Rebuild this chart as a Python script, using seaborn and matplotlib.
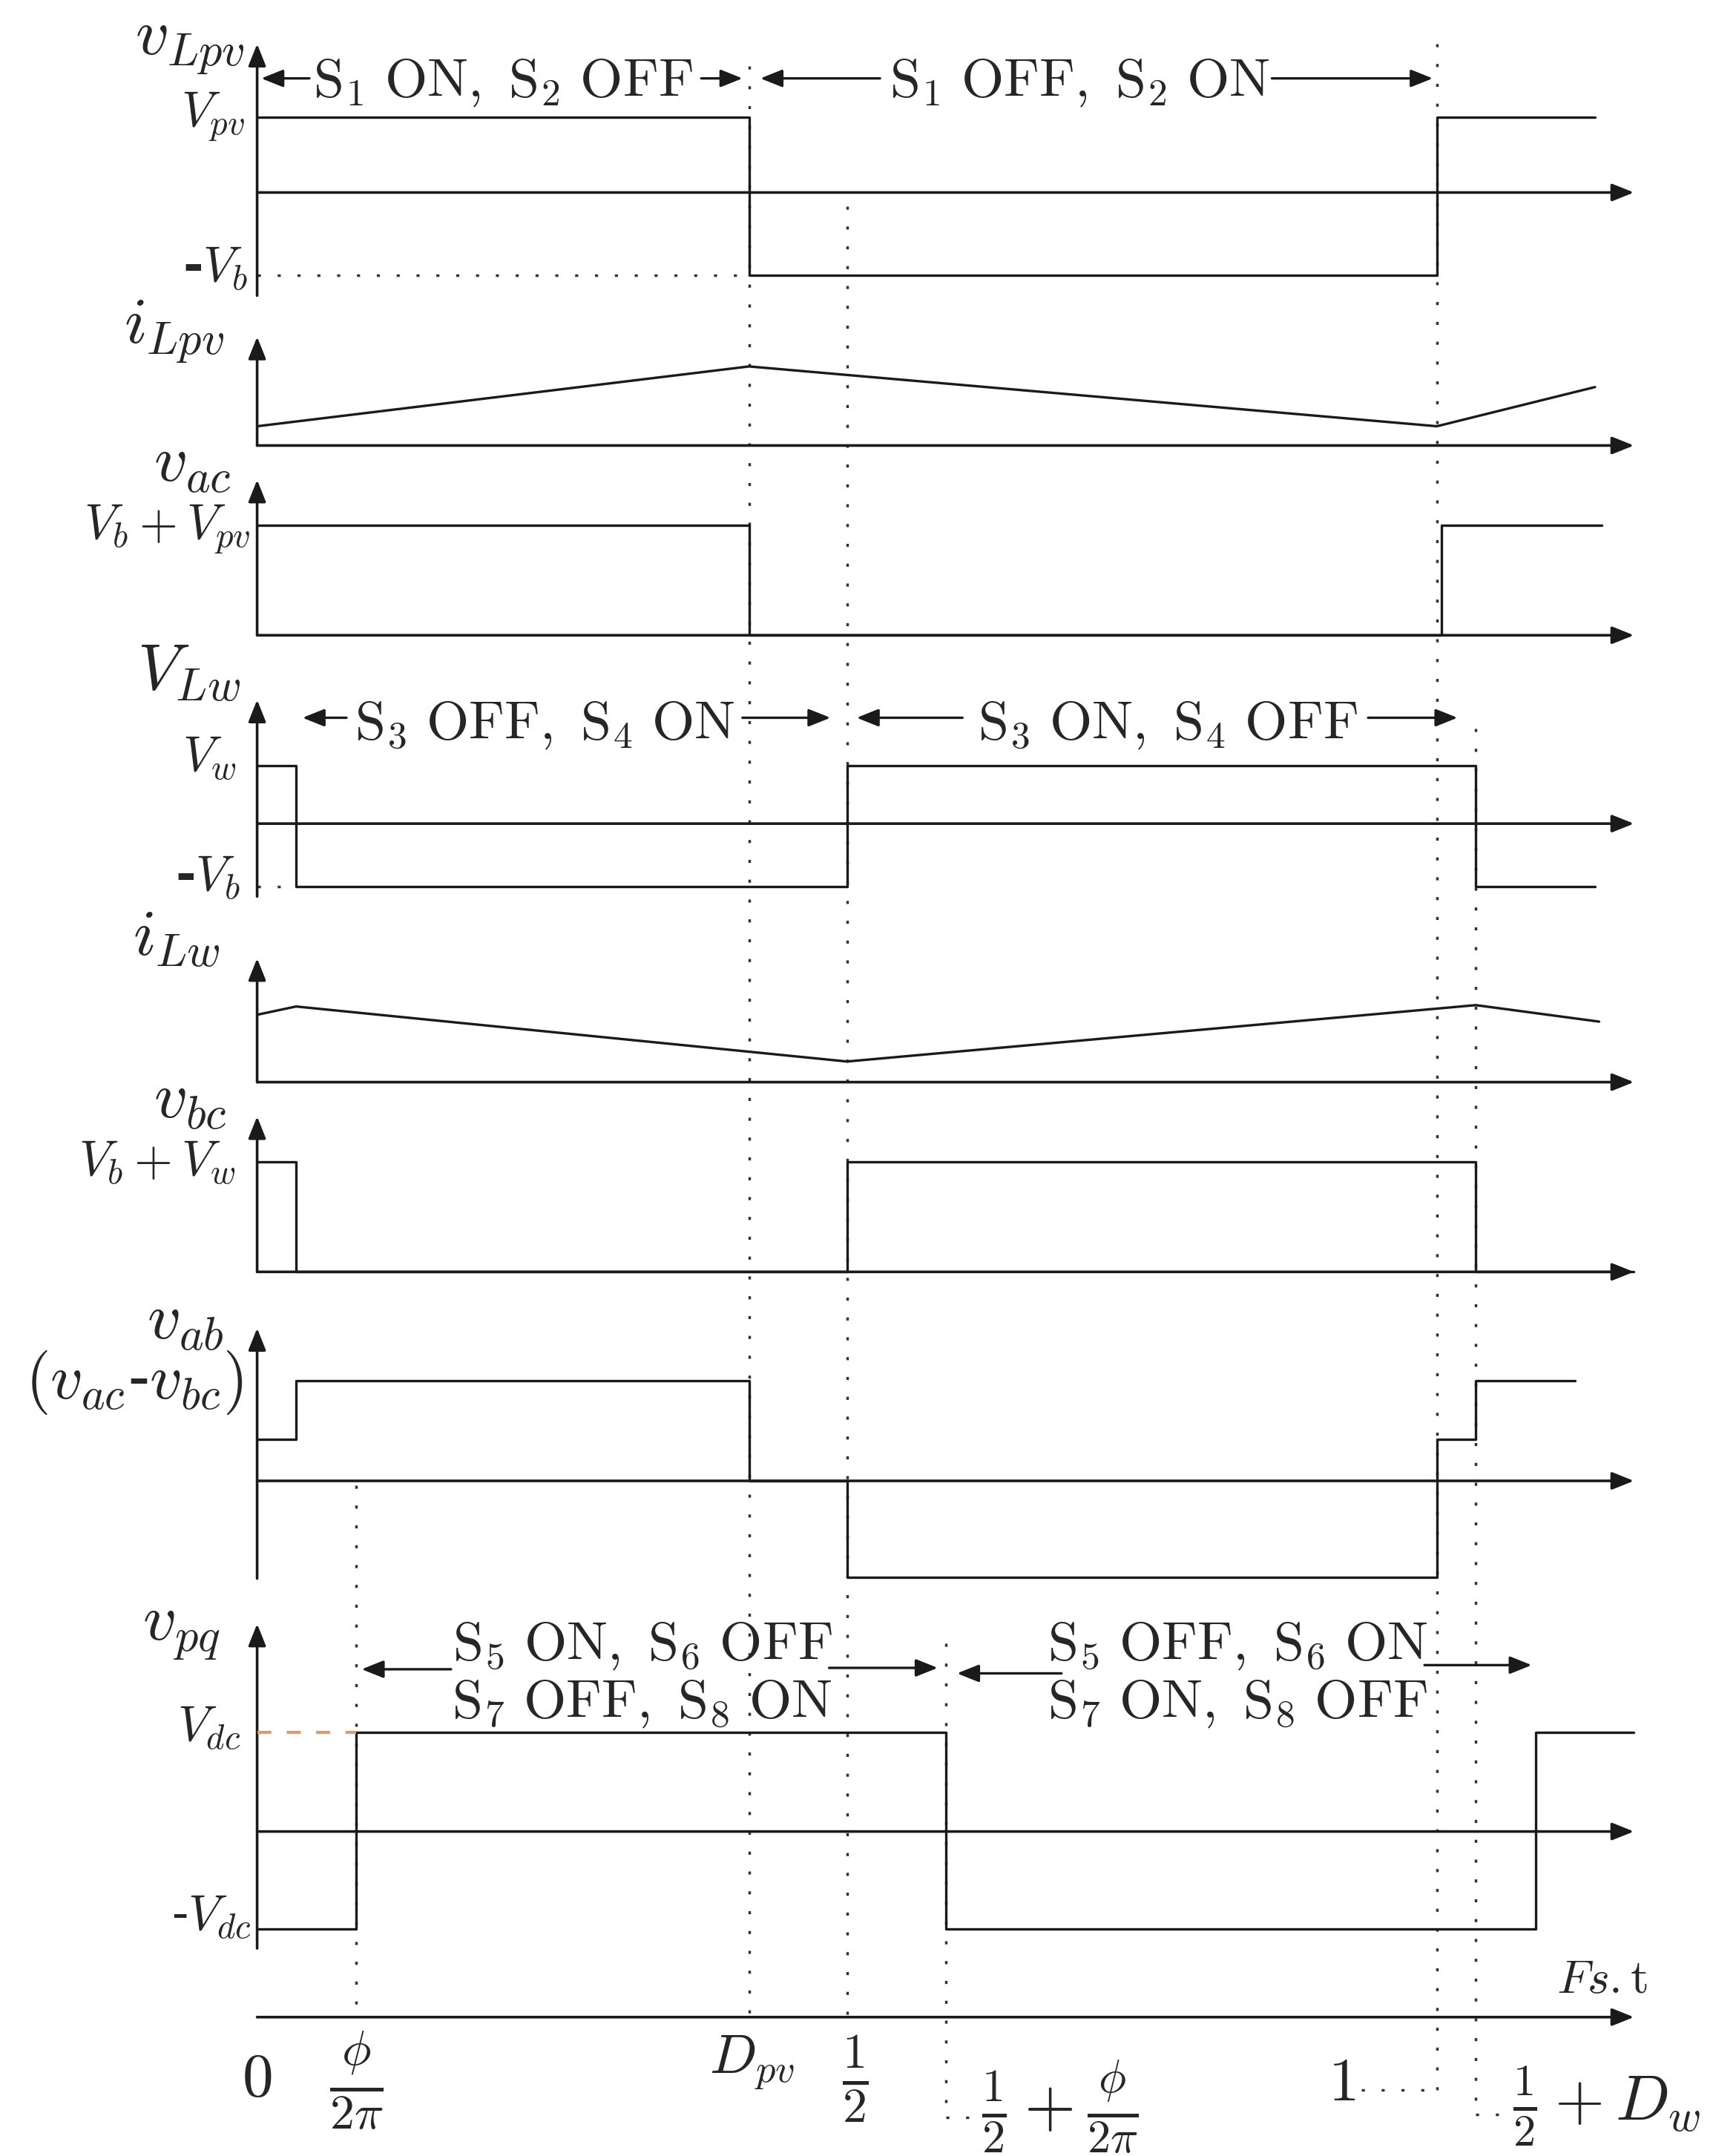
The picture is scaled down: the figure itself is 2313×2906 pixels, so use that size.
import matplotlib
matplotlib.use("Agg")
import matplotlib.pyplot as plt
import seaborn as sns

# switching instants, normalised time Fs.t
phi_2pi = 0.084
D_pv = 0.417
D_w = 0.533

# waveforms (time, level), arbitrary units
vLpv_t = [0.0, 0.417, 1.0, 1.134]
vLpv_v = [1.1, -1.2, 1.1, 1.1]
iLpv_t = [0.0, 0.417, 1.0, 1.134]
iLpv_v = [0.28, 1.15, 0.28, 0.85]
vac_t = [0.0, 0.417, 1.004, 1.14]
vac_v = [1.6, 0.0, 1.6, 1.6]
vLw_t = [0.0, 0.033, 0.5, 1.033, 1.134]
vLw_v = [0.84, -0.92, 0.84, -0.92, -0.92]
iLw_t = [0.0, 0.033, 0.5, 1.033, 1.1375]
iLw_v = [0.98, 1.1, 0.3, 1.12, 0.88]
vbc_t = [0.0, 0.033, 0.5, 1.033, 1.167]
vbc_v = [1.6, 0.0, 1.6, 0.0, 0.0]
vab_t = [0.0, 0.033, 0.417, 0.5, 1.0, 1.033, 1.117]
vab_v = [0.6, 1.46, 0.0, -1.4, 0.6, 1.46, 1.46]
vpq_t = [0.0, 0.084, 0.584, 1.084, 1.167]
vpq_v = [-1.42, 1.44, -1.42, 1.44, 1.44]

names = [r"$v_{Lpv}$", r"$i_{Lpv}$", r"$v_{ac}$", r"$V_{Lw}$", r"$i_{Lw}$",
         r"$v_{bc}$", r"$v_{ab}$", r"$v_{pq}$"]
tick_t = [0.0, phi_2pi, D_pv, 0.5, 0.5 + phi_2pi, 1.0, 0.5 + D_w]
tick_labels = [r"$0$", r"$\frac{\phi}{2\pi}$", r"$D_{pv}$", r"$\frac{1}{2}$",
               r"$\frac{1}{2}+\frac{\phi}{2\pi}$", r"$1$", r"$\frac{1}{2}+D_w$"]

sns.set_theme(style="white")
plt.rcParams["mathtext.fontset"] = "cm"
plt.rcParams["font.family"] = ["DejaVu Serif"]

H = 1568.0          # layout drawn in a 1248x1568 grid
PX = 50.0           # grid rows per unit of level
X0, XU = 187.0, 858.0
T_LEFT, T_RIGHT = -X0 / XU, (1248 - X0) / XU
T_AXIS = 1.167


def tx(px):
    return (px - X0) / XU


fig = plt.figure(figsize=(23.13, 29.06), dpi=100)
top = fig.add_axes([0, 0, 1, 1])
top.set_xlim(T_LEFT, T_RIGHT)
top.set_ylim(H, 0)
top.set_axis_off()

ARW = "-|>,head_length=0.6,head_width=0.24"


def arrow(ax, x0, y0, x1, y1, lw=2.6):
    ax.annotate("", xy=(x1, y1), xytext=(x0, y0), annotation_clip=False,
                arrowprops=dict(arrowstyle=ARW, lw=lw, color="k",
                                mutation_scale=30, shrinkA=0, shrinkB=0))


def panel(y0, ylo, yhi):
    ax = fig.add_axes([0, 0, 1, 1])
    ax.patch.set_alpha(0)
    ax.set_xlim(T_LEFT, T_RIGHT)
    ax.set_ylim((y0 - H) / PX, y0 / PX)
    ax.set_axis_off()
    arrow(ax, 0, ylo, 0, yhi)
    arrow(ax, 0, 0, T_AXIS, 0)
    return ax


panel_y0 = [140, 324, 462, 599, 787, 925, 1077, 1332]
panel_yrange = [(-1.5, 2.16), (0, 1.58), (0, 2.26), (-1.06, 1.8),
                (0, 1.8), (0, 2.26), (-1.42, 2.22), (-1.7, 3.02)]
waves = [(vLpv_t, vLpv_v, True), (iLpv_t, iLpv_v, False), (vac_t, vac_v, True),
         (vLw_t, vLw_v, True), (iLw_t, iLw_v, False), (vbc_t, vbc_v, True),
         (vab_t, vab_v, True), (vpq_t, vpq_v, True)]

axes = []
for y0, (lo, hi), (t, v, step) in zip(panel_y0, panel_yrange, waves):
    ax = panel(y0, lo, hi)
    kw = dict(drawstyle="steps-post") if step else {}
    sns.lineplot(x=t, y=v, ax=ax, color="k", lw=2.4, sort=False,
                 estimator=None, zorder=5, **kw)
    ax.set_axis_off()
    axes.append(ax)

dot = dict(color="#333333", lw=2.5, ls=(0, (1.2, 6.5)), zorder=1)

# dotted level guides
axes[0].plot([0, D_pv], [vLpv_v[1], vLpv_v[1]], **dot)
axes[3].plot([0, 0.033], [vLw_v[1], vLw_v[1]], **dot)
axes[7].plot([0, phi_2pi], [vpq_v[1], vpq_v[1]], color="#e39a62", lw=3,
             ls=(0, (4.5, 5)), zorder=6)

# vertical guides at switching instants (t, from row, to row)
guides = [(D_pv, 48, 1470), (0.5, 150, 1470), (1.0, 32, 1520),
          (phi_2pi, 1080, 1467), (0.5 + phi_2pi, 1195, 1540),
          (0.5 + D_w, 530, 1538)]
for t, ya, yb in guides:
    top.plot([t, t], [ya, yb], **dot)
top.plot([tx(990), 1.0], [1520, 1520], **dot)
top.plot([0.5 + phi_2pi, tx(712)], [1540, 1540], **dot)
top.plot([0.5 + D_w, tx(1097)], [1538, 1538], **dot)

# time axis
arrow(top, 0, 1467, T_AXIS, 1467)
top.text(tx(1165), 1440, r"$Fs.\mathrm{t}$", fontsize=46, ha="center", va="center")

# panel names
name_pos = [(178, 40), (163, 250), (168, 350), (175, 502), (160, 695),
            (165, 813), (163, 974), (160, 1193)]
for s, (px, py) in zip(names, name_pos):
    top.text(tx(px), py, s, fontsize=64, ha="right", va="baseline")
top.text(tx(177), 1017, r"$(v_{ac}$-$v_{bc})$", fontsize=62, ha="right", va="baseline")

# level labels
levels = [(r"$V_{pv}$", 178, 92), (r"-$V_b$", 180, 205), (r"$V_b+V_{pv}$", 182, 392),
          (r"$V_w$", 172, 561), (r"-$V_b$", 175, 648), (r"$V_b+V_w$", 171, 855),
          (r"$V_{dc}$", 175, 1266), (r"-$V_{dc}$", 183, 1404)]
for s, px, py in levels:
    bold = "bold" if s.endswith("V_b$") else "normal"
    top.text(tx(px), py, s, fontsize=48, ha="right", va="baseline", fontweight=bold)

# switch states
states = [(r"$\mathrm{S_1\ ON,\ S_2\ OFF}$", 366, 70),
          (r"$\mathrm{S_1\ OFF,\ S_2\ ON}$", 785, 70),
          (r"$\mathrm{S_3\ OFF,\ S_4\ ON}$", 396, 537),
          (r"$\mathrm{S_3\ ON,\ S_4\ OFF}$", 849, 537),
          (r"$\mathrm{S_5\ ON,\ S_6\ OFF}$", 467, 1207),
          (r"$\mathrm{S_7\ OFF,\ S_8\ ON}$", 467, 1249),
          (r"$\mathrm{S_5\ OFF,\ S_6\ ON}$", 900, 1207),
          (r"$\mathrm{S_7\ ON,\ S_8\ OFF}$", 900, 1249)]
for s, px, py in states:
    top.text(tx(px), py, s, fontsize=53, ha="center", va="baseline")

state_arrows = [(225, 190, 57), (510, 540, 57), (640, 553, 57), (925, 1042, 57),
                (252, 220, 522), (540, 604, 522), (700, 623, 522), (995, 1060, 522),
                (328, 263, 1214), (603, 682, 1213), (772, 696, 1217), (1036, 1114, 1211)]
for xa, xb, py in state_arrows:
    arrow(top, tx(xa), py, tx(xb), py, lw=2.4)

# time tick labels
tick_pos = [(187, 1512, "center", 60), (259, 1513, "center", 68),
            (547, 1500, "center", 54), (622, 1512, "center", 68),
            (714, 1533, "left", 64), (986, 1515, "right", 60),
            (1100, 1532, "left", 62)]
for s, (px, py, ha, fs) in zip(tick_labels, tick_pos):
    top.text(tx(px), py, s, fontsize=fs, ha=ha, va="center")

plt.savefig("out.png", dpi=100)
